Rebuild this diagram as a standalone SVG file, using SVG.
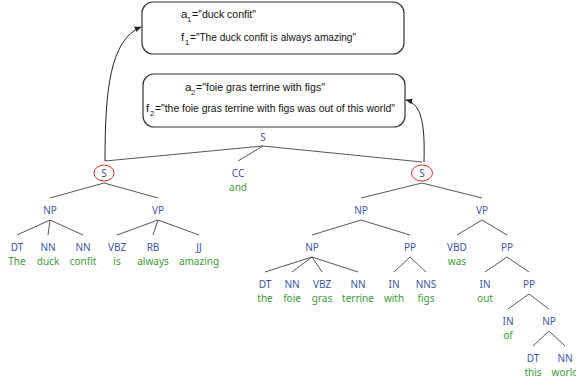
<svg xmlns="http://www.w3.org/2000/svg" width="576" height="383" viewBox="0 0 576 383">
<style>
.box{fill:#fff;stroke:#333;stroke-width:1.2}
.bt{font-family:"Liberation Sans",Arial,sans-serif;font-size:11.5px;fill:#111}
.sub{font-family:"Liberation Sans",Arial,sans-serif;font-size:7.5px;fill:#111}
.lab{font-family:"Noto Sans","Open Sans",sans-serif;font-size:10px;fill:#3a55a8;text-anchor:middle}
.wd{font-family:"Noto Sans","Open Sans",sans-serif;font-size:10px;fill:#3a9a3a;text-anchor:middle}
.e line{stroke:#555;stroke-width:1}
.arr{fill:none;stroke:#222;stroke-width:1;marker-end:url(#ah)}
.circ{fill:none;stroke:#e03030;stroke-width:1}
</style>
<defs>
<marker id="ah" viewBox="0 0 10 10" refX="9" refY="5" markerWidth="7" markerHeight="7" orient="auto-start-reverse">
<path d="M0,1 L10,5 L0,9 z" fill="#222"/>
</marker>
</defs>
<rect width="576" height="383" fill="#fff"/>
<g id="box1">
<rect class="box" x="142" y="2" width="262" height="52" rx="11"/>
<text class="bt" x="181" y="18">a</text><text class="sub" x="187" y="22">1</text>
<text class="bt" x="192" y="18" textLength="64" lengthAdjust="spacingAndGlyphs">="duck confit"</text>
<text class="bt" x="181" y="41">f</text><text class="sub" x="185" y="45">1</text>
<text class="bt" x="190" y="41" textLength="166" lengthAdjust="spacingAndGlyphs">="The duck confit is always amazing"</text>
</g>
<g id="box2">
<rect class="box" x="143" y="74" width="262" height="53" rx="11"/>
<text class="bt" x="185" y="91">a</text><text class="sub" x="191" y="95">2</text>
<text class="bt" x="196" y="91" textLength="129" lengthAdjust="spacingAndGlyphs">="foie gras terrine with figs"</text>
<text class="bt" x="146" y="112">f</text><text class="sub" x="150" y="116">2</text>
<text class="bt" x="155" y="112" textLength="240" lengthAdjust="spacingAndGlyphs">="the foie gras terrine with figs was out of this world"</text>
</g>
<g id="connectors">
<g class="e">
<line x1="263" y1="146" x2="105" y2="161"/>
<line x1="263" y1="146" x2="238" y2="161"/>
<line x1="263" y1="146" x2="422" y2="162"/>
<line x1="104" y1="183" x2="50" y2="198"/>
<line x1="104" y1="183" x2="158" y2="198"/>
<line x1="50" y1="220" x2="17" y2="235"/>
<line x1="50" y1="220" x2="48" y2="235"/>
<line x1="50" y1="220" x2="83" y2="235"/>
<line x1="158" y1="220" x2="117" y2="235"/>
<line x1="158" y1="220" x2="153" y2="235"/>
<line x1="158" y1="220" x2="199" y2="235"/>
<line x1="422" y1="183" x2="361" y2="198"/>
<line x1="422" y1="183" x2="482" y2="198"/>
<line x1="361" y1="220" x2="312" y2="235"/>
<line x1="361" y1="220" x2="410" y2="235"/>
<line x1="482" y1="220" x2="457" y2="235"/>
<line x1="482" y1="220" x2="507" y2="235"/>
<line x1="312" y1="257" x2="265" y2="272"/>
<line x1="312" y1="257" x2="292" y2="272"/>
<line x1="312" y1="257" x2="322" y2="272"/>
<line x1="312" y1="257" x2="358" y2="272"/>
<line x1="410" y1="257" x2="394" y2="272"/>
<line x1="410" y1="257" x2="426" y2="272"/>
<line x1="507" y1="257" x2="485" y2="272"/>
<line x1="507" y1="257" x2="529" y2="272"/>
<line x1="529" y1="294" x2="508" y2="309"/>
<line x1="529" y1="294" x2="549" y2="309"/>
<line x1="549" y1="331" x2="533" y2="346"/>
<line x1="549" y1="331" x2="565" y2="346"/>
</g>
<path class="arr" d="M105,161 C105,90 110,40 141,27"/>
<path class="arr" d="M424,162 C425,125 422,104 406,100"/>
</g>
<g id="S-top"><text class="lab" x="263" y="141">S</text></g>
<g id="S-left"><ellipse class="circ" cx="104" cy="173" rx="10" ry="8"/><text class="lab" x="104" y="177">S</text></g>
<g id="CC"><text class="lab" x="238" y="177">CC</text><text class="wd" x="238" y="191">and</text></g>
<g id="S-right"><ellipse class="circ" cx="422" cy="173" rx="10.5" ry="8"/><text class="lab" x="422" y="177">S</text></g>
<g id="NP1"><text class="lab" x="50" y="214">NP</text></g>
<g id="VP1"><text class="lab" x="158" y="214">VP</text></g>
<g id="DT1"><text class="lab" x="17" y="251">DT</text><text class="wd" x="17" y="265">The</text></g>
<g id="NN1"><text class="lab" x="48" y="251">NN</text><text class="wd" x="48" y="265">duck</text></g>
<g id="NN2"><text class="lab" x="83" y="251">NN</text><text class="wd" x="83" y="265">confit</text></g>
<g id="VBZ1"><text class="lab" x="117" y="251">VBZ</text><text class="wd" x="117" y="265">is</text></g>
<g id="RB1"><text class="lab" x="153" y="251">RB</text><text class="wd" x="153" y="265">always</text></g>
<g id="JJ1"><text class="lab" x="199" y="251">JJ</text><text class="wd" x="199" y="265">amazing</text></g>
<g id="NP2"><text class="lab" x="361" y="214">NP</text></g>
<g id="VP2"><text class="lab" x="482" y="214">VP</text></g>
<g id="NP3"><text class="lab" x="312" y="251">NP</text></g>
<g id="PP1"><text class="lab" x="410" y="251">PP</text></g>
<g id="VBD1"><text class="lab" x="457" y="251">VBD</text><text class="wd" x="457" y="265">was</text></g>
<g id="PP2"><text class="lab" x="507" y="251">PP</text></g>
<g id="DT2"><text class="lab" x="265" y="288">DT</text><text class="wd" x="265" y="302">the</text></g>
<g id="NN3"><text class="lab" x="292" y="288">NN</text><text class="wd" x="292" y="302">foie</text></g>
<g id="VBZ2"><text class="lab" x="322" y="288">VBZ</text><text class="wd" x="322" y="302">gras</text></g>
<g id="NN4"><text class="lab" x="358" y="288">NN</text><text class="wd" x="358" y="302">terrine</text></g>
<g id="IN1"><text class="lab" x="394" y="288">IN</text><text class="wd" x="394" y="302">with</text></g>
<g id="NNS1"><text class="lab" x="426" y="288">NNS</text><text class="wd" x="426" y="302">figs</text></g>
<g id="IN2"><text class="lab" x="485" y="288">IN</text><text class="wd" x="485" y="302">out</text></g>
<g id="PP3"><text class="lab" x="529" y="288">PP</text></g>
<g id="IN3"><text class="lab" x="508" y="325">IN</text><text class="wd" x="508" y="339">of</text></g>
<g id="NP4"><text class="lab" x="549" y="325">NP</text></g>
<g id="DT3"><text class="lab" x="533" y="362">DT</text><text class="wd" x="533" y="376">this</text></g>
<g id="NN5"><text class="lab" x="565" y="362">NN</text><text class="wd" x="565" y="376">world</text></g>
</svg>
